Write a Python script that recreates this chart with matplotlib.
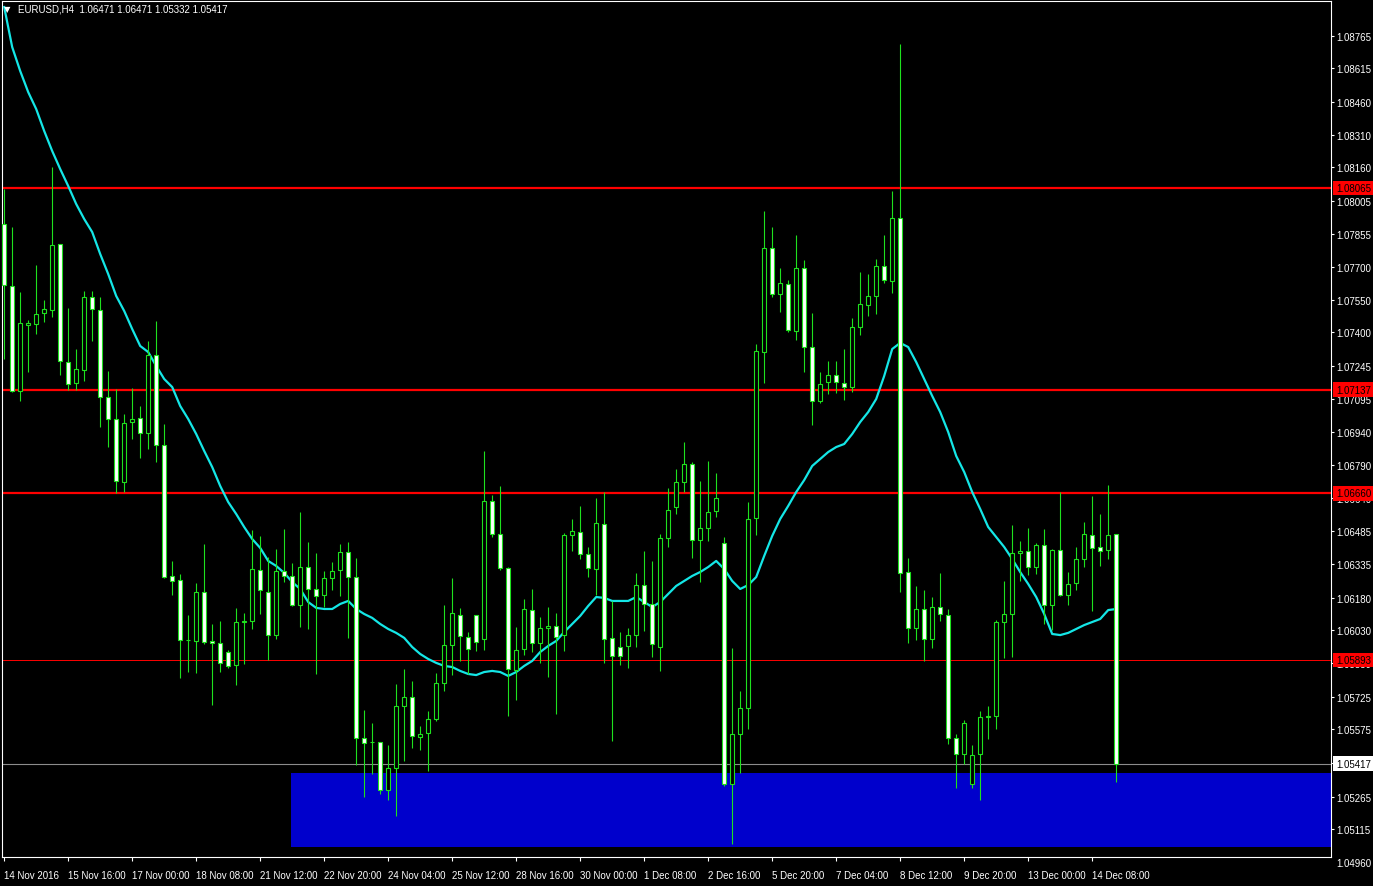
import numpy as np
import matplotlib.pyplot as plt
from matplotlib.patches import Rectangle

# EURUSD H4 - svechalar (OHLC), chapdan o'ngga
opens = [1.07899, 1.07614, 1.07131, 1.07434, 1.07439, 1.07490, 1.07503, 1.07807, 1.07264, 1.07168,
         1.07227, 1.07563, 1.07503, 1.07103, 1.07002, 1.06712, 1.06988, 1.07007, 1.06938, 1.07296,
         1.06882, 1.06280, 1.06261, 1.05984, 1.05981, 1.06206, 1.05981, 1.05972, 1.05930, 1.05870,
         1.06068, 1.06073, 1.06307, 1.06206, 1.06008, 1.06303, 1.06280, 1.06146, 1.06321, 1.06220,
         1.06192, 1.06271, 1.06307, 1.06390, 1.06275, 1.05535, 1.05515, 1.05516, 1.05295, 1.05397,
         1.05682, 1.05723, 1.05539, 1.05558, 1.05622, 1.05788, 1.05962, 1.06100, 1.05999, 1.06100,
         1.05990, 1.06625, 1.06473, 1.06317, 1.05847, 1.05944, 1.06123, 1.05972, 1.06041, 1.06050,
         1.06008, 1.06468, 1.06482, 1.06381, 1.06312, 1.06519, 1.05995, 1.05953, 1.05958, 1.06008,
         1.06238, 1.06151, 1.05953, 1.06455, 1.06597, 1.06712, 1.06795, 1.06445, 1.06501, 1.06579,
         1.06432, 1.05323, 1.05553, 1.05673, 1.06547, 1.07310, 1.07789, 1.07577, 1.07623, 1.07407,
         1.07697, 1.07333, 1.07085, 1.07172, 1.07204, 1.07168, 1.07149, 1.07425, 1.07526, 1.07568,
         1.07706, 1.07637, 1.07927, 1.06298, 1.06041, 1.06128, 1.05990, 1.06137, 1.06100, 1.05535,
         1.05461, 1.05323, 1.05461, 1.05631, 1.05636, 1.06068, 1.06105, 1.06386, 1.06395, 1.06321,
         1.06422, 1.06146, 1.06399, 1.06192, 1.06248, 1.06358, 1.06468, 1.06413, 1.06399, 1.06471]
highs = [1.08060, 1.07885, 1.07586, 1.07457, 1.07710, 1.07549, 1.08161, 1.07807, 1.07513, 1.07324,
         1.07591, 1.07591, 1.07563, 1.07223, 1.07140, 1.07025, 1.07145, 1.07062, 1.07361, 1.07453,
         1.06979, 1.06349, 1.06289, 1.06100, 1.06248, 1.06427, 1.06059, 1.06073, 1.05939, 1.06133,
         1.06110, 1.06491, 1.06464, 1.06367, 1.06404, 1.06496, 1.06340, 1.06574, 1.06436, 1.06386,
         1.06303, 1.06344, 1.06427, 1.06436, 1.06363, 1.05663, 1.05604, 1.05516, 1.05502, 1.05783,
         1.05852, 1.05797, 1.05590, 1.05659, 1.05834, 1.06146, 1.06271, 1.06133, 1.06022, 1.06100,
         1.06855, 1.06652, 1.06694, 1.06321, 1.06045, 1.06174, 1.06220, 1.06091, 1.06137, 1.06110,
         1.06478, 1.06542, 1.06602, 1.06413, 1.06639, 1.06666, 1.06165, 1.06022, 1.06041, 1.06294,
         1.06395, 1.06349, 1.06473, 1.06685, 1.06772, 1.06896, 1.06804, 1.06717, 1.06809, 1.06754,
         1.06459, 1.05949, 1.05751, 1.06620, 1.07347, 1.07959, 1.07885, 1.07697, 1.07641, 1.07848,
         1.07733, 1.07490, 1.07218, 1.07269, 1.07269, 1.07324, 1.07467, 1.07678, 1.07669, 1.07738,
         1.07848, 1.08051, 1.08727, 1.06363, 1.06234, 1.06215, 1.06183, 1.06294, 1.06128, 1.05553,
         1.05617, 1.05502, 1.05659, 1.05682, 1.06077, 1.06257, 1.06514, 1.06441, 1.06501, 1.06432,
         1.06496, 1.06404, 1.06666, 1.06298, 1.06413, 1.06528, 1.06648, 1.06565, 1.06698, 1.06471]
lows = [1.07278, 1.07126, 1.07085, 1.07218, 1.07393, 1.07448, 1.07471, 1.07204, 1.07135, 1.07135,
        1.07177, 1.07361, 1.06965, 1.06873, 1.06662, 1.06666, 1.06910, 1.06823, 1.06864, 1.06804,
        1.06270, 1.06192, 1.05811, 1.05838, 1.05834, 1.05967, 1.05686, 1.05838, 1.05857, 1.05778,
        1.05875, 1.06036, 1.06105, 1.05893, 1.05990, 1.06252, 1.06140, 1.06045, 1.06036, 1.05829,
        1.06137, 1.06215, 1.06188, 1.05995, 1.05410, 1.05263, 1.05369, 1.05277, 1.05249, 1.05176,
        1.05429, 1.05489, 1.05479, 1.05383, 1.05613, 1.05751, 1.05824, 1.05889, 1.05829, 1.05935,
        1.05939, 1.06459, 1.06307, 1.05636, 1.05709, 1.05916, 1.05930, 1.05880, 1.05815, 1.05645,
        1.05935, 1.06395, 1.06358, 1.06275, 1.06192, 1.05880, 1.05521, 1.05870, 1.05857, 1.05953,
        1.06027, 1.05907, 1.05843, 1.06413, 1.06565, 1.06666, 1.06363, 1.06252, 1.06441, 1.06551,
        1.05314, 1.05047, 1.05374, 1.05576, 1.06468, 1.07168, 1.07563, 1.07494, 1.07402, 1.07365,
        1.07218, 1.06974, 1.07076, 1.07117, 1.07122, 1.07089, 1.07126, 1.07388, 1.07476, 1.07485,
        1.07628, 1.07582, 1.06206, 1.05972, 1.05985, 1.05889, 1.05949, 1.06073, 1.05507, 1.05305,
        1.05415, 1.05305, 1.05249, 1.05530, 1.05576, 1.05903, 1.05907, 1.06257, 1.06284, 1.06289,
        1.06059, 1.06031, 1.06190, 1.06146, 1.06215, 1.06321, 1.06119, 1.06326, 1.06358, 1.05332]
closes = [1.07618, 1.07131, 1.07444, 1.07444, 1.07485, 1.07508, 1.07802, 1.07269, 1.07163, 1.07232,
          1.07563, 1.07508, 1.07103, 1.07002, 1.06717, 1.06984, 1.07002, 1.06938, 1.07296, 1.06882,
          1.06275, 1.06257, 1.05985, 1.05985, 1.06206, 1.05976, 1.05972, 1.05880, 1.05866, 1.06068,
          1.06073, 1.06312, 1.06215, 1.06008, 1.06303, 1.06280, 1.06146, 1.06321, 1.06220, 1.06188,
          1.06271, 1.06303, 1.06390, 1.06275, 1.05535, 1.05512, 1.05516, 1.05295, 1.05397, 1.05682,
          1.05723, 1.05544, 1.05553, 1.05622, 1.05788, 1.05962, 1.06110, 1.06004, 1.05944, 1.05976,
          1.06625, 1.06473, 1.06317, 1.05852, 1.05939, 1.06128, 1.05972, 1.06041, 1.06050, 1.05999,
          1.06468, 1.06487, 1.06381, 1.06317, 1.06524, 1.05990, 1.05912, 1.05912, 1.06008, 1.06238,
          1.06151, 1.05967, 1.06455, 1.06583, 1.06712, 1.06795, 1.06445, 1.06501, 1.06574, 1.06639,
          1.05323, 1.05553, 1.05673, 1.06542, 1.07315, 1.07789, 1.07577, 1.07628, 1.07411, 1.07697,
          1.07333, 1.07085, 1.07163, 1.07204, 1.07172, 1.07149, 1.07425, 1.07531, 1.07568, 1.07706,
          1.07641, 1.07927, 1.06294, 1.06041, 1.06128, 1.05990, 1.06137, 1.06105, 1.05535, 1.05461,
          1.05604, 1.05456, 1.05631, 1.05636, 1.06068, 1.06105, 1.06386, 1.06395, 1.06321, 1.06422,
          1.06146, 1.06399, 1.06192, 1.06243, 1.06358, 1.06473, 1.06409, 1.06395, 1.06468, 1.05417]

# moving average (cyan chiziq)
ma = [1.08897, 1.08713, 1.08603, 1.08506, 1.08428, 1.08327, 1.08235, 1.08152, 1.08074, 1.07991,
      1.07922, 1.07862, 1.07761, 1.07669, 1.07568, 1.07499, 1.07416, 1.07338, 1.07310, 1.07246,
      1.07186, 1.07149, 1.07062, 1.07002, 1.06933, 1.06855, 1.06781, 1.06694, 1.06620, 1.06565,
      1.06505, 1.06450, 1.06409, 1.06349, 1.06326, 1.06294, 1.06252, 1.06220, 1.06160, 1.06133,
      1.06128, 1.06128, 1.06151, 1.06165, 1.06128, 1.06105, 1.06087, 1.06059, 1.06036, 1.06018,
      1.05995, 1.05953, 1.05921, 1.05898, 1.05880, 1.05866, 1.05861, 1.05843, 1.05829, 1.05824,
      1.05838, 1.05843, 1.05838, 1.05820, 1.05838, 1.05866, 1.05889, 1.05930, 1.05958, 1.05981,
      1.06022, 1.06059, 1.06096, 1.06142, 1.06183, 1.06179, 1.06165, 1.06165, 1.06165, 1.06183,
      1.06160, 1.06137, 1.06160, 1.06197, 1.06234, 1.06257, 1.06280, 1.06298, 1.06321, 1.06349,
      1.06312, 1.06257, 1.06220, 1.06238, 1.06275, 1.06372, 1.06464, 1.06542, 1.06602, 1.06666,
      1.06721, 1.06786, 1.06818, 1.06850, 1.06873, 1.06887, 1.06933, 1.06988, 1.07034, 1.07094,
      1.07200, 1.07324, 1.07352, 1.07333, 1.07264, 1.07186, 1.07108, 1.07034, 1.06942, 1.06832,
      1.06758, 1.06666, 1.06588, 1.06505, 1.06459, 1.06413, 1.06358, 1.06298, 1.06243, 1.06183,
      1.06105, 1.06013, 1.06008, 1.06018, 1.06036, 1.06054, 1.06068, 1.06082, 1.06123, 1.06128]

# vaqt yorliqlari (har 8 svecha)
time_labels = ["14 Nov 2016", "15 Nov 16:00", "17 Nov 00:00", "18 Nov 08:00", "21 Nov 12:00",
               "22 Nov 20:00", "24 Nov 04:00", "25 Nov 12:00", "28 Nov 16:00", "30 Nov 00:00",
               "1 Dec 08:00", "2 Dec 16:00", "5 Dec 20:00", "7 Dec 04:00", "8 Dec 12:00",
               "9 Dec 20:00", "13 Dec 00:00", "14 Dec 08:00"]
price_ticks = [1.08765, 1.08615, 1.08460, 1.08310, 1.08160, 1.08005, 1.07855, 1.07700, 1.07550,
               1.07400, 1.07245, 1.07095, 1.06940, 1.06790, 1.06640, 1.06485, 1.06335, 1.06180,
               1.06030, 1.05880, 1.05725, 1.05575, 1.05420, 1.05265, 1.05115, 1.04960]

# gorizontal chiziqlar va zona
red_levels = [1.08065, 1.07137, 1.06660]
thin_level = 1.05893
bid_price = 1.05417
zone_low, zone_high = 1.05035, 1.05372
zone_start = 35.9

title = "EURUSD,H4  1.06471 1.06471 1.05332 1.05417"

GREEN = '#1ee11e'
CYAN = '#14e6e6'

plt.rcParams['font.family'] = ['Liberation Sans', 'DejaVu Sans']

W, H = 1373, 887
fig = plt.figure(figsize=(W / 100, H / 100), dpi=100, facecolor='black')
ax = fig.add_axes([2 / W, 1 - 858 / H, 1329 / W, 856 / H])
ax.set_facecolor('black')

n = len(opens)
x = np.arange(n)

# ko'k zona
ax.add_patch(Rectangle((zone_start, zone_low), 200, zone_high - zone_low,
                       facecolor='#0000cc', edgecolor='none', zorder=1))

# chiziqlar
for lv in red_levels:
    ax.axhline(lv, color='#ff0000', lw=1.6, zorder=2)
ax.axhline(thin_level, color='#ff0000', lw=0.7, zorder=2)
ax.axhline(bid_price, color='#8c8c8c', lw=0.8, zorder=2)

# MA
ax.plot(x, ma, color=CYAN, lw=1.6, zorder=3)

# svechalar
bw = 0.55
for i in range(n):
    o, h, l, c = opens[i], highs[i], lows[i], closes[i]
    ax.vlines(i, l, h, color=GREEN, lw=0.8, zorder=4)
    fill = 'black' if c > o else 'white'
    ax.add_patch(Rectangle((i - bw / 2, min(o, c)), bw, abs(c - o),
                           facecolor=fill, edgecolor=GREEN, lw=0.8, zorder=5))

ax.set_xlim(-0.275, 165.85)
ax.set_ylim(1.04987, 1.08925)

for s in ax.spines.values():
    s.set_color('white')
    s.set_linewidth(0.8)

# x o'qi
ax.set_xticks(np.arange(0, 8 * len(time_labels), 8))
ax.set_xticklabels(time_labels, ha='left')
ax.tick_params(axis='x', colors='white', length=3, width=0.8, labelsize=7, pad=6.5)

# y o'qi (o'ngda)
ax.yaxis.tick_right()
vis = [p for p in price_ticks if p > 1.04987]
ax.set_yticks(vis)
ax.set_yticklabels(["%.5f" % p for p in vis])
ax.tick_params(axis='y', colors='white', length=2.5, width=0.8, labelsize=7, pad=1.5)
ax.annotate("%.5f" % price_ticks[-1], xy=(1, price_ticks[-1]), xycoords=('axes fraction', 'data'),
            xytext=(3.5, 0), textcoords='offset points', va='center', ha='left',
            fontsize=7, color='white', annotation_clip=False)


def price_box(p, bg, fg='black'):
    ax.annotate("%.5f" % p, xy=(1, p), xycoords=('axes fraction', 'data'),
                xytext=(3.5, 0), textcoords='offset points', va='center', ha='left',
                fontsize=7, color=fg, annotation_clip=False, zorder=10,
                bbox=dict(boxstyle='square,pad=0.25', fc=bg, ec='none'))


for lv in red_levels + [thin_level]:
    price_box(lv, '#ff0000')
price_box(bid_price, 'white')

# sarlavha
fig.text(4 / W, 1 - 10 / H, '\u25bc', color='white', fontsize=6, family='DejaVu Sans', va='center')
fig.text(18 / W, 1 - 10 / H, title, color='white', fontsize=7, va='center')

fig.savefig("out.png", dpi=100, facecolor='black')
